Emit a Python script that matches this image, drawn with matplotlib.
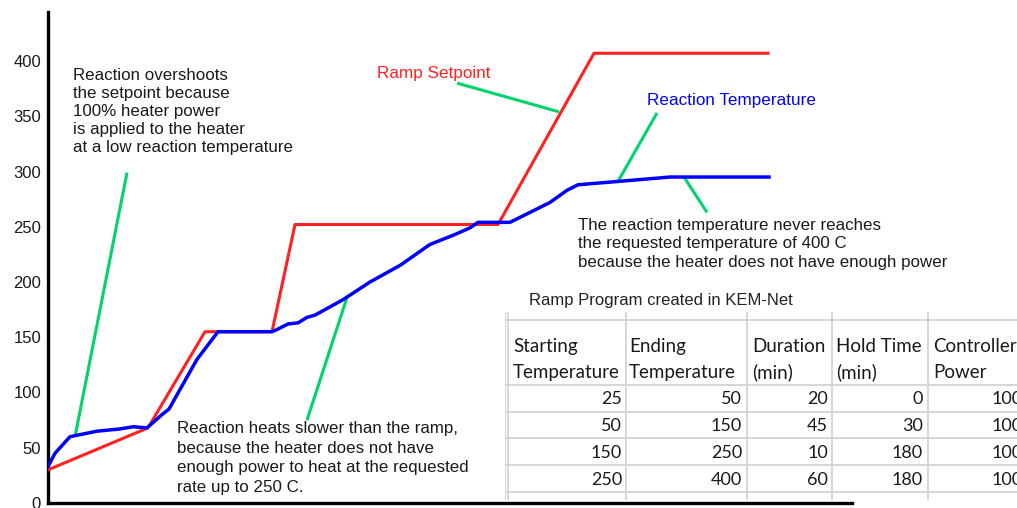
import matplotlib
matplotlib.use("Agg")
import matplotlib.pyplot as plt

# ramp setpoint (red) and measured reaction temperature (blue)
setpoint_t = [0, 100, 157, 224, 247, 450, 546, 720]
setpoint_temp = [30, 68, 155, 155, 252, 252, 407, 407]

reaction_t = [0, 7, 22, 49, 72, 85, 99, 114, 121, 139, 149, 170, 224, 229, 240,
              250, 259, 267, 279, 295, 322, 352, 382, 407, 422, 430, 462, 482,
              502, 519, 530, 570, 622, 721]
reaction_temp = [33, 45, 60, 65, 67, 69, 68, 80, 85, 114, 130, 155, 155, 157, 162,
                 163, 168, 170, 176, 184, 200, 215, 234, 243, 249, 254, 254, 263,
                 272, 283, 288, 291, 295, 295]

y_ticks = [0, 50, 100, 150, 200, 250, 300, 350, 400]

# ramp program table
table_title = "Ramp Program created in KEM-Net"
col_headers = [("Starting", "Temperature"), ("Ending", "Temperature"),
               ("Duration", "(min)"), ("Hold Time", "(min)"), ("Controller", "Power")]
start_temp = [25, 50, 150, 250]
end_temp = [50, 150, 250, 400]
duration = [20, 45, 10, 60]
hold_time = [0, 30, 180, 180]
ctrl_power = [100, 100, 100, 100]

# callouts: text, anchor (t, temp), line spacing, leader line ((t0, y0), (t1, y1))
notes = [
    ("Reaction overshoots\nthe setpoint because\n100% heater power\nis applied to the heater\nat a low reaction temperature",
     (25, 394), 1.26, ((79, 299), (27, 60))),
    ("Reaction heats slower than the ramp,\nbecause the heater does not have\nenough power to heat at the requested\nrate up to 250 C.",
     (129, 74), 1.38, ((299, 186), (259, 75))),
    ("The reaction temperature never reaches\nthe requested temperature of 400 C\nbecause the heater does not have enough power",
     (530, 258), 1.28, ((636, 295), (659, 263))),
]
label_leaders = [
    ("Ramp Setpoint", "#ff2020", (329, 389), ((409, 380), (511, 354))),
    ("Reaction Temperature", "#0000ff", (599, 364), ((609, 353), (570, 291))),
]

plt.rcParams['font.family'] = ['Liberation Sans', 'DejaVu Sans']
fig = plt.figure(figsize=(10.17, 5.08), dpi=100)
ax = fig.add_axes([48 / 1017, 5 / 508, 804 / 1017, 491 / 508])
ax.set_xlim(0, 804)
ax.set_ylim(0, 491 / 1.105)

green = "#00d46a"
for text, (tx, ty), ls, (p0, p1) in notes:
    ax.plot([p0[0], p1[0]], [p0[1], p1[1]], color=green, lw=2.2, solid_capstyle='butt')
    ax.text(tx, ty, text, fontsize=12.2, color="#1a1a1a", va='top', ha='left',
            linespacing=ls)
for text, col, (tx, ty), (p0, p1) in label_leaders:
    ax.plot([p0[0], p1[0]], [p0[1], p1[1]], color=green, lw=2.2, solid_capstyle='butt')
    ax.text(tx, ty, text, fontsize=12.3, color=col, va='center', ha='left')

ax.plot(setpoint_t, setpoint_temp, color="#ff2020", lw=2.2, zorder=3)
ax.plot(reaction_t, reaction_temp, color="#0000ff", lw=2.5, zorder=4)

ax.set_yticks(y_ticks)
ax.tick_params(axis='y', length=0, pad=5, labelsize=12, labelcolor="#1a1a1a")
ax.set_xticks([])
for s in ['top', 'right']:
    ax.spines[s].set_visible(False)
for s in ['left', 'bottom']:
    ax.spines[s].set_linewidth(2.4)
    ax.spines[s].set_color("black")

# table drawn as a separate panel, units are pixels from its top-left corner
tab = fig.add_axes([505 / 1017, 8 / 508, 512 / 1017, 188 / 508])
tab.set_xlim(0, 512)
tab.set_ylim(188, 0)
tab.axis('off')
tab.patch.set_visible(False)
grid = "#d0d0d0"
for yy in [8, 73, 100, 126, 153, 180]:
    tab.plot([0, 512], [yy, yy], color=grid, lw=1.2)
for xx in [0, 3, 121, 242, 327, 423]:
    tab.plot([xx, xx], [0, 188], color=grid, lw=1.2)

col_left = [8, 124, 247, 331, 428]
col_right = [117, 237, 323, 418, 518]
hfont = dict(family=['Lato', 'DejaVu Sans'], fontsize=13.5, color="#1a1a1a")
dfont = dict(family=['Lato', 'DejaVu Sans'], fontsize=13, color="#1a1a1a")
for (h1, h2), xl in zip(col_headers, col_left):
    tab.text(xl, 40, h1, va='baseline', ha='left', clip_on=True, **hfont)
    tab.text(xl, 66, h2, va='baseline', ha='left', clip_on=True, **hfont)
rows = list(zip(start_temp, end_temp, duration, hold_time, ctrl_power))
for i, row in enumerate(rows):
    yy = 92.5 + i * 26.7
    for val, xr in zip(row, col_right):
        tab.text(xr, yy, str(val), va='baseline', ha='right', clip_on=True, **dfont)

fig.text(529 / 1017, 1 - 300 / 508, table_title, fontsize=12, color="#222222",
         va='center', ha='left')

fig.savefig("out.png", dpi=100)
